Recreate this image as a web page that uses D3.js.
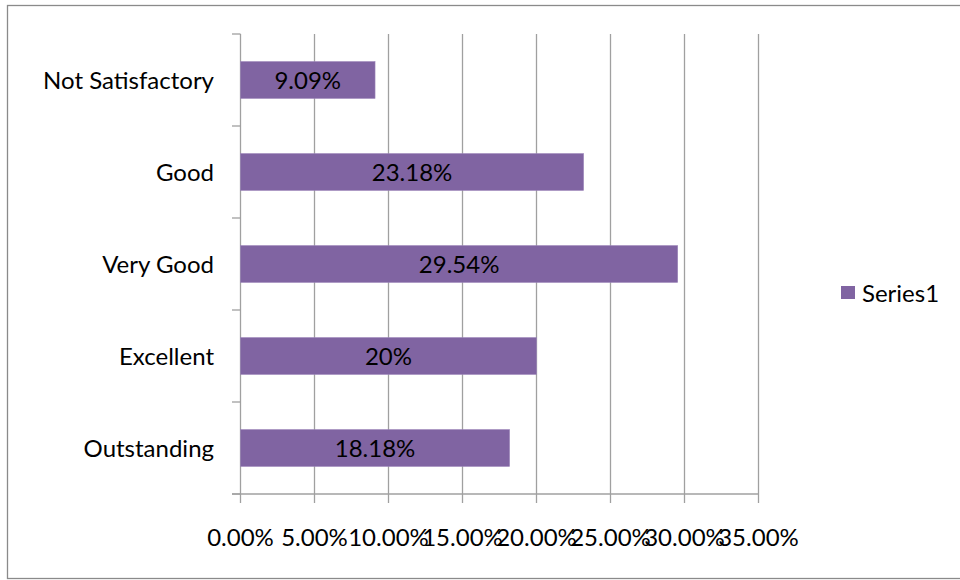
<!DOCTYPE html>
<html>
<head>
<meta charset="utf-8">
<script src="https://cdn.jsdelivr.net/npm/d3@7"></script>
<style>
  body { margin: 0; background: #fff; }
  svg { display: block; }
  text { font-family: Lato, "Open Sans", sans-serif; fill: #000; }
</style>
</head>
<body>
<svg id="canvas" width="960" height="580"></svg>
<script>
let categories = ['Not Satisfactory', 'Good', 'Very Good', 'Excellent', 'Outstanding']
let values = [9.09, 23.18, 29.54, 20, 18.18]
let valueLabels = ['9.09%', '23.18%', '29.54%', '20%', '18.18%']
let xTicks = [0, 5, 10, 15, 20, 25, 30, 35]
let seriesName = 'Series1'

let rows = categories.map((c, i) => ({ name: c, value: values[i], label: valueLabels[i] }))

let canvas = d3.select('#canvas')
let fontSize = 24
let gridColor = '#a0a0a0'
let barColor = '#8064a2'

// outer chart border
canvas.append('rect')
  .attr('x', 7.5).attr('y', 5.5)
  .attr('width', 960).attr('height', 573)
  .attr('fill', 'none').attr('stroke', '#8a8a8a').attr('stroke-width', 1.3)

let xScale = d3.scaleLinear().domain([0, 35]).range([240.5, 758.5])
let yScale = d3.scaleBand().domain(categories).range([34, 494]).paddingInner(0.6).paddingOuter(0.3)

// vertical gridlines
canvas.append('g').selectAll('line')
  .data(xTicks.slice(1))
  .enter().append('line')
  .attr('x1', d => xScale(d)).attr('x2', d => xScale(d))
  .attr('y1', 34).attr('y2', 503)
  .attr('stroke', gridColor).attr('stroke-width', 1.3)

// y axis line + ticks
canvas.append('line')
  .attr('x1', xScale(0)).attr('x2', xScale(0))
  .attr('y1', 34).attr('y2', 503)
  .attr('stroke', gridColor).attr('stroke-width', 1.3)

let yTickPos = d3.range(categories.length + 1).map(i => 34 + i * (460 / categories.length))
canvas.append('g').selectAll('line')
  .data(yTickPos)
  .enter().append('line')
  .attr('x1', 232).attr('x2', xScale(0))
  .attr('y1', d => d).attr('y2', d => d)
  .attr('stroke', gridColor).attr('stroke-width', 1.3)

// x axis line
canvas.append('line')
  .attr('x1', 232).attr('x2', xScale(35))
  .attr('y1', 494).attr('y2', 494)
  .attr('stroke', gridColor).attr('stroke-width', 1.3)

// bars
canvas.append('g').selectAll('rect')
  .data(rows)
  .enter().append('rect')
  .attr('x', xScale(0))
  .attr('y', d => yScale(d.name))
  .attr('width', d => xScale(d.value) - xScale(0))
  .attr('height', yScale.bandwidth())
  .attr('fill', barColor)
  .attr('stroke', '#9a84b8').attr('stroke-width', 0.6)

// data labels
canvas.append('g').selectAll('text')
  .data(rows)
  .enter().append('text')
  .attr('x', d => (xScale(0) + xScale(d.value)) / 2)
  .attr('y', d => yScale(d.name) + yScale.bandwidth() / 2)
  .attr('dy', '0.36em')
  .attr('text-anchor', 'middle')
  .style('font-size', fontSize + 'px')
  .text(d => d.label)

// category labels
canvas.append('g').selectAll('text')
  .data(rows)
  .enter().append('text')
  .attr('x', 214)
  .attr('y', d => yScale(d.name) + yScale.bandwidth() / 2)
  .attr('dy', '0.36em')
  .attr('text-anchor', 'end')
  .style('font-size', fontSize + 'px')
  .text(d => d.name)

// x tick labels
canvas.append('g').selectAll('text')
  .data(xTicks)
  .enter().append('text')
  .attr('x', d => xScale(d))
  .attr('y', 537)
  .attr('dy', '0.36em')
  .attr('text-anchor', 'middle')
  .style('font-size', fontSize + 'px')
  .text(d => d3.format('.2f')(d) + '%')

// legend
let legend = canvas.append('g').attr('transform', 'translate(841, 286)')
legend.append('rect').attr('width', 14).attr('height', 13).attr('fill', barColor)
legend.append('text')
  .attr('x', 21).attr('y', 7)
  .attr('dy', '0.36em')
  .style('font-size', fontSize + 'px')
  .text(seriesName)
</script>
</body>
</html>
